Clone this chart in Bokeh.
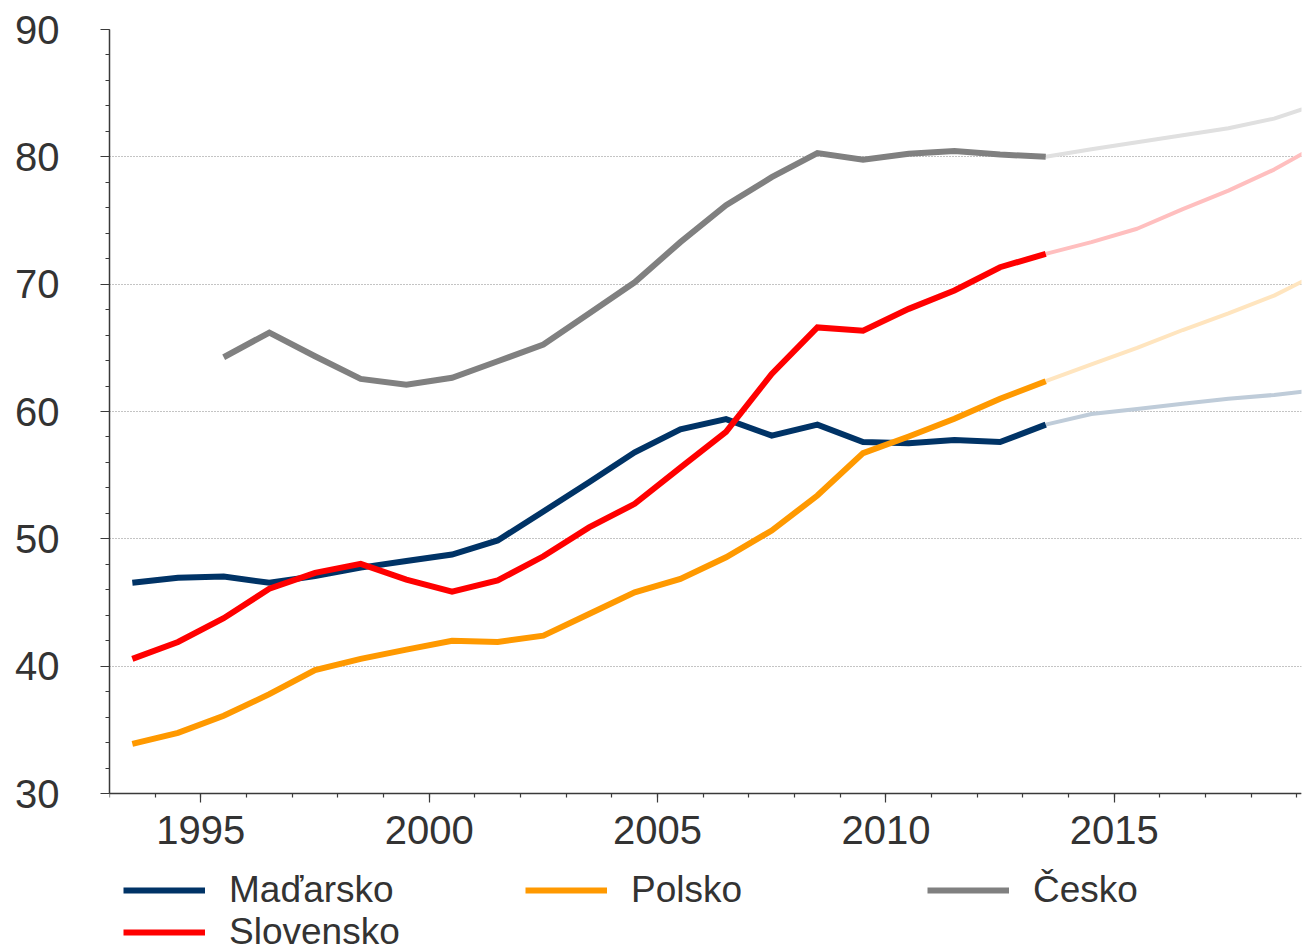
from bokeh.plotting import figure
from bokeh.models import FixedTicker, Legend, LegendItem, Range1d
from bokeh.embed import file_html
from bokeh.resources import INLINE

# ---- data ----
years_hist = list(range(1993, 2014))
years_cz = list(range(1995, 2014))
years_proj = list(range(2013, 2020))

hu_hist = [46.55, 46.94, 47.04, 46.55, 47.07, 47.74, 48.26, 48.77, 49.87, 52.15, 54.45,
           56.8, 58.6, 59.4, 58.1, 58.97, 57.6, 57.5, 57.76, 57.6, 58.97]
sk_hist = [40.57, 41.9, 43.77, 46.08, 47.33, 48.04, 46.8, 45.86, 46.73, 48.63, 50.9,
           52.75, 55.6, 58.4, 62.95, 66.6, 66.35, 68.06, 69.5, 71.33, 72.38]
pl_hist = [33.9, 34.76, 36.1, 37.8, 39.7, 40.57, 41.3, 42.0, 41.9, 42.4, 44.1,
           45.8, 46.85, 48.55, 50.65, 53.4, 56.73, 58.04, 59.43, 61.0, 62.38]
cz_hist = [64.26, 66.2, 64.34, 62.56, 62.1, 62.65, 63.95, 65.26, 67.7, 70.15,
           73.3, 76.2, 78.4, 80.3, 79.77, 80.24, 80.45, 80.18, 80.0]

hu_proj = [58.97, 59.8, 60.2, 60.6, 61.0, 61.3, 61.7]
sk_proj = [72.38, 73.3, 74.35, 75.9, 77.35, 79.0, 81.0]
pl_proj = [62.38, 63.7, 65.0, 66.4, 67.7, 69.1, 70.9]
cz_proj = [80.0, 80.6, 81.15, 81.7, 82.25, 83.0, 84.2]

names = ["Maďarsko", "Polsko", "Česko", "Slovensko"]
colors = ["#003366", "#FF9900", "#808080", "#FF0000"]
light_colors = ["#BFCCD9", "#FFE5BF", "#E0E0E0", "#FFBFBF"]

y_ticks = [30, 40, 50, 60, 70, 80, 90]
x_ticks = [1995, 2000, 2005, 2010, 2015]

FONT = "Liberation Sans"
TXT = "#333333"
AX = "#3a3a3a"

# frame spans the whole lower area (axis is pinned at y=30), so the legend
# below the axis stays inside the frame and is not clipped
Y_TOP = 90
Y_BOTTOM = 90 - 922 / (764 / 60)

p = figure(width=1302, height=951, output_backend="svg", toolbar_location=None,
           x_range=Range1d(1993, 2019.1), y_range=Range1d(Y_BOTTOM, Y_TOP),
           min_border_left=109, min_border_right=1, min_border_top=29,
           min_border_bottom=0)
p.outline_line_color = None
p.background_fill_color = "white"
p.border_fill_color = "white"

def mid(years):
    return [y + 0.5 for y in years]

series = [
    (years_hist, hu_hist, hu_proj),
    (years_hist, pl_hist, pl_proj),
    (years_cz, cz_hist, cz_proj),
    (years_hist, sk_hist, sk_proj),
]

items = []
for (yrs, hist, proj), name, c, lc in zip(series, names, colors, light_colors):
    p.line(mid(years_proj), proj, line_color=lc, line_width=4, line_join="round")
    r = p.line(mid(yrs), hist, line_color=c, line_width=6, line_join="miter")
    items.append(LegendItem(label=name, renderers=[r]))

# axes
for ax in (p.xaxis[0], p.yaxis[0]):
    ax.axis_line_color = AX
    ax.axis_line_width = 1.5
    ax.major_tick_line_color = AX
    ax.minor_tick_line_color = AX
    ax.major_tick_line_width = 1.2
    ax.minor_tick_line_width = 1.2
    ax.major_tick_in = 0
    ax.major_tick_out = 9
    ax.minor_tick_in = 0
    ax.minor_tick_out = 4
    ax.major_label_text_font = FONT
    ax.major_label_text_font_size = "40px"
    ax.major_label_text_color = TXT

p.xaxis[0].fixed_location = 30
p.yaxis[0].bounds = (30, 90)
p.xaxis[0].ticker = FixedTicker(ticks=x_ticks, minor_ticks=list(range(1993, 2020)))
p.yaxis[0].ticker = FixedTicker(ticks=y_ticks, minor_ticks=list(range(30, 91, 2)))
p.xaxis[0].major_label_standoff = 13
p.yaxis[0].major_label_standoff = 41

p.xgrid.visible = False
p.ygrid.ticker = FixedTicker(ticks=y_ticks)
p.ygrid.grid_line_color = "#888888"
p.ygrid.grid_line_dash = "1 2"
p.ygrid.grid_line_width = 1

legend = Legend(items=items, orientation="horizontal", ncols=3,
                location=(14, -2), padding=0, margin=0, spacing=0,
                glyph_width=82, glyph_height=20, label_standoff=24,
                label_width=296, label_height=20,
                label_text_font=FONT, label_text_font_size="37px",
                label_text_color=TXT, border_line_alpha=0,
                background_fill_alpha=0)
p.add_layout(legend, "center")

open("out.html", "w").write(file_html(p, INLINE))
